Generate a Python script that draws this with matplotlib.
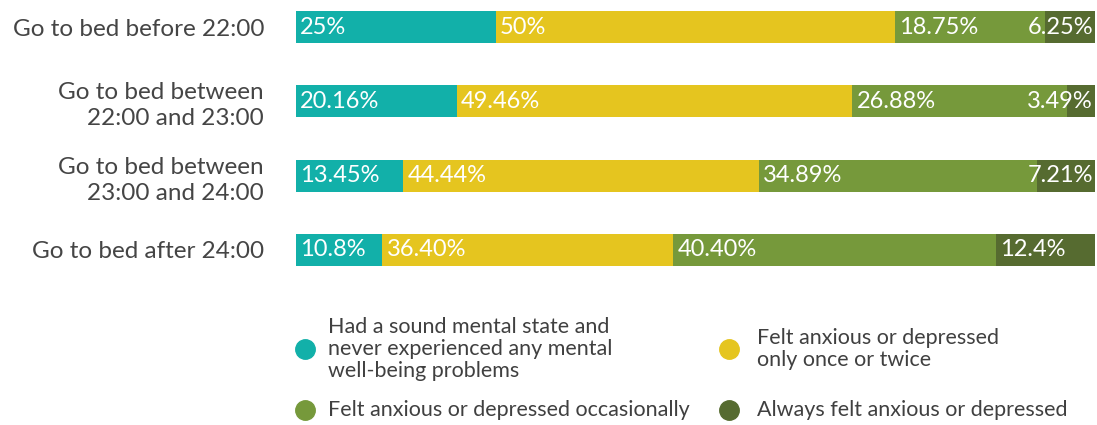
import matplotlib.pyplot as plt
from matplotlib.lines import Line2D
import numpy as np

categories = ["Go to bed before 22:00",
              "Go to bed between\n22:00 and 23:00",
              "Go to bed between\n23:00 and 24:00",
              "Go to bed after 24:00"]
series_names = ["Had a sound mental state and\nnever experienced any mental\nwell-being problems",
                "Felt anxious or depressed\nonly once or twice",
                "Felt anxious or depressed occasionally",
                "Always felt anxious or depressed"]
sound = [25.0, 20.16, 13.45, 10.8]
once_twice = [50.0, 49.46, 44.44, 36.40]
occasionally = [18.75, 26.88, 34.89, 40.40]
always = [6.25, 3.49, 7.21, 12.4]
value_labels = [["25%", "20.16%", "13.45%", "10.8%"],
                ["50%", "49.46%", "44.44%", "36.40%"],
                ["18.75%", "26.88%", "34.89%", "40.40%"],
                ["6.25%", "3.49%", "7.21%", "12.4%"]]
colors = ["#12B0A9", "#E5C51F", "#76993B", "#566B30"]

plt.rcParams['font.family'] = ['Lato', 'DejaVu Sans']
W, H = 1097, 425
fig = plt.figure(figsize=(W / 100, H / 100), dpi=100)
ax = fig.add_axes([296 / W, 1 - 280 / H, (1095 - 296) / W, 280 / H])

series = [sound, once_twice, occasionally, always]
y = np.arange(len(categories))
left = np.zeros(len(categories))
texts = []
for vals, col, labs in zip(series, colors, value_labels):
    vals = np.array(vals)
    ax.barh(y, vals, left=left, height=0.43, color=col, edgecolor='none')
    for yi, (l, lab) in enumerate(zip(left, labs)):
        t = ax.annotate(lab, (l, yi), xytext=(3, 0), textcoords='offset points',
                        ha='left', va='center', color='white', fontsize=17)
        texts.append(t)
    left = left + vals

ax.set_xlim(0, 100)
ax.set_ylim(3 + 30 / 74.3, -27 / 74.3)
ax.set_yticks(y)
ax.set_yticklabels(categories, fontsize=17.5, color='#454545', linespacing=1.3)
ax.tick_params(axis='y', length=0, pad=23)
ax.set_xticks([])
for s in ax.spines.values():
    s.set_visible(False)

# keep value labels inside the bar's right end
fig.canvas.draw()
renderer = fig.canvas.get_renderer()
bar_right = ax.transData.transform((100, 0))[0]
for t in texts:
    bb = t.get_window_extent(renderer)
    overflow = bb.x1 - (bar_right - 2)
    if overflow > 0:
        ox, oy = t.xyann
        t.xyann = (ox - overflow * 72 / fig.dpi, oy)

# legend drawn in figure pixel space
def fig_xy(px, py):
    return px / W, 1 - py / H

legend_items = [(305, 349, 328, series_names[0]),
                (729, 349, 757, series_names[1]),
                (305, 410, 328, series_names[2]),
                (729, 410, 757, series_names[3])]
for (mx, my, tx, label), col in zip(legend_items, colors):
    fx, fy = fig_xy(mx, my)
    fig.add_artist(Line2D([fx], [fy], marker='o', markersize=14, color=col,
                          linestyle='none', transform=fig.transFigure))
    tx_f, ty_f = fig_xy(tx, my)
    fig.text(tx_f, ty_f, label, ha='left', va='center', fontsize=15.5,
             color='#404040', linespacing=1.15)

fig.savefig("out.png", dpi=100)
